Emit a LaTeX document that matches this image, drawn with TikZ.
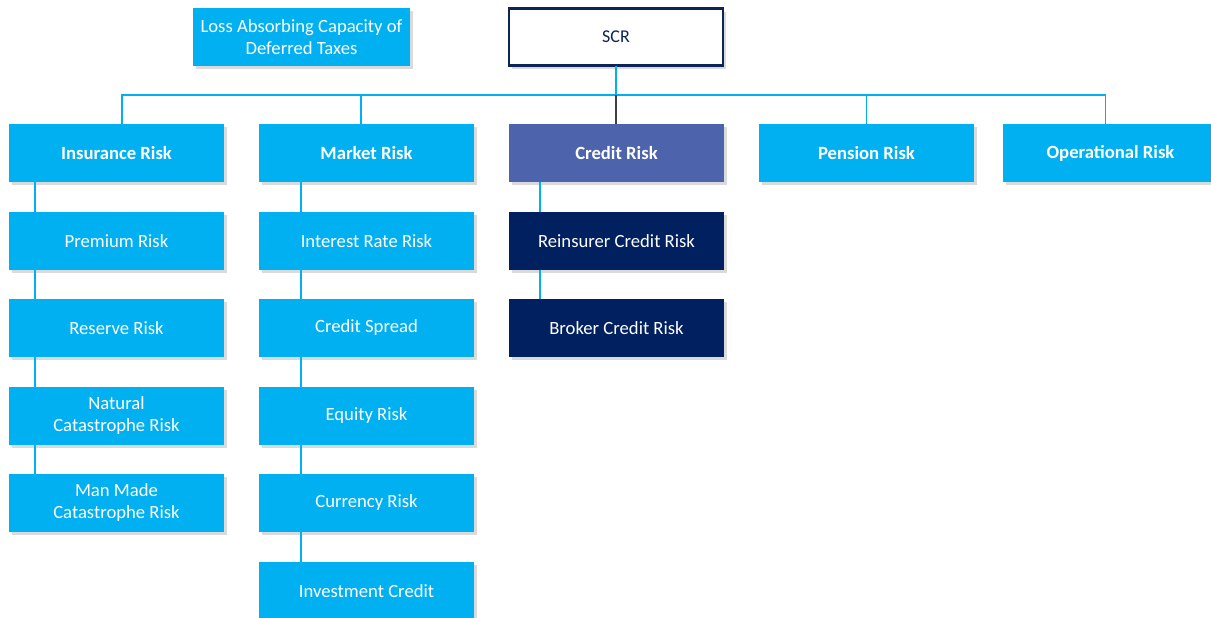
\documentclass[tikz,border=0pt]{standalone}
\usepackage{fontspec}
\setmainfont{Carlito}
\usetikzlibrary{shadows,calc}
\definecolor{lblue}{HTML}{00B0F0}
\definecolor{credit}{HTML}{4D63AC}
\definecolor{navy}{HTML}{002060}
\definecolor{scrline}{HTML}{0E2356}
\definecolor{shadowgray}{HTML}{DADADA}
\tikzset{
  box/.style={fill=lblue, text=white, inner sep=0pt, outer sep=0pt,
    minimum width=161.25pt, minimum height=43.5pt, align=center,
    font=\fontsize{14}{16.5}\selectfont,
    general shadow={fill=shadowgray, shadow xshift=2.25pt, shadow yshift=-2.25pt}},
  head/.style={box, font=\fontsize{14}{16.5}\selectfont\bfseries},
  creditbox/.style={head, fill=credit},
  navybox/.style={box, fill=navy},
  conn/.style={draw=lblue, line width=1.2pt},
  darkconn/.style={draw=black!75, line width=0.8pt},
}
\begin{document}
\begin{tikzpicture}[x=0.75pt, y=-0.75pt]
\useasboundingbox (0,0) rectangle (1211,618);
% top
\node[box, minimum width=162.75pt, minimum height=43.5pt] (lac) at (301.5,37) {Loss Absorbing Capacity of\\Deferred Taxes};
\node[draw=scrline, line width=2pt, fill=white, text=scrline, inner sep=0pt, outer sep=0pt,
  minimum width=160.5pt, minimum height=42.75pt, font=\fontsize{13.5}{16}\selectfont,
  general shadow={fill=shadowgray, shadow xshift=2.25pt, shadow yshift=-2.25pt}] (scr) at (616,37) {SCR};
% level 1
\node[head] (ins) at (116.5,153) {Insurance Risk};
\node[head] (mkt) at (366.5,153) {Market Risk};
\node[creditbox] (cred) at (616.5,153) {Credit Risk};
\node[head] (pen) at (866.5,153) {Pension Risk};
\node[head] (ops) at (1110.5,153) {Operational Risk};
% insurance column
\node[box] (prem) at (116.5,241) {Premium Risk};
\node[box] (res) at (116.5,328) {Reserve Risk};
\node[box] (nat) at (116.5,416) {Natural\\Catastrophe Risk};
\node[box] (man) at (116.5,503) {Man Made\\Catastrophe Risk};
% market column
\node[box] (ir) at (366.5,241) {Interest Rate Risk};
\node[box] (cs) at (366.5,328) {Credit Spread};
\node[box] (eq) at (366.5,416) {Equity Risk};
\node[box] (cur) at (366.5,503) {Currency Risk};
\node[box] (inv) at (366.5,591) {Investment Credit};
% credit column
\node[navybox] (rei) at (616.5,241) {Reinsurer Credit Risk};
\node[navybox] (brk) at (616.5,328) {Broker Credit Risk};
% bus
\coordinate (bus) at (616,95);
\draw[conn] (scr.south) -- (bus);
\draw[conn] ([xshift=4.125pt]ins.north) -- ++(0,-29) -- ([xshift=-3.75pt]ops.north |- bus) -- ([xshift=-3.75pt]ops.north);
\draw[conn] ([xshift=-4.125pt]mkt.north) -- ++(0,-29);
\draw[conn] (pen.north) -- ++(0,-29);
\draw[darkconn] (bus) -- (cred.north -| bus);
% child connectors
\foreach \a/\b in {ins/prem, prem/res, res/nat, nat/man}
  \draw[conn] ([xshift=19.5pt]\a.south west) -- ([xshift=19.5pt]\b.north west);
\foreach \a/\b in {mkt/ir, ir/cs, cs/eq, eq/cur, cur/inv}
  \draw[conn] ([xshift=31.5pt]\a.south west) -- ([xshift=31.5pt]\b.north west);
\foreach \a/\b in {cred/rei, rei/brk}
  \draw[conn] ([xshift=23.25pt]\a.south west) -- ([xshift=23.25pt]\b.north west);
\end{tikzpicture}
\end{document}
